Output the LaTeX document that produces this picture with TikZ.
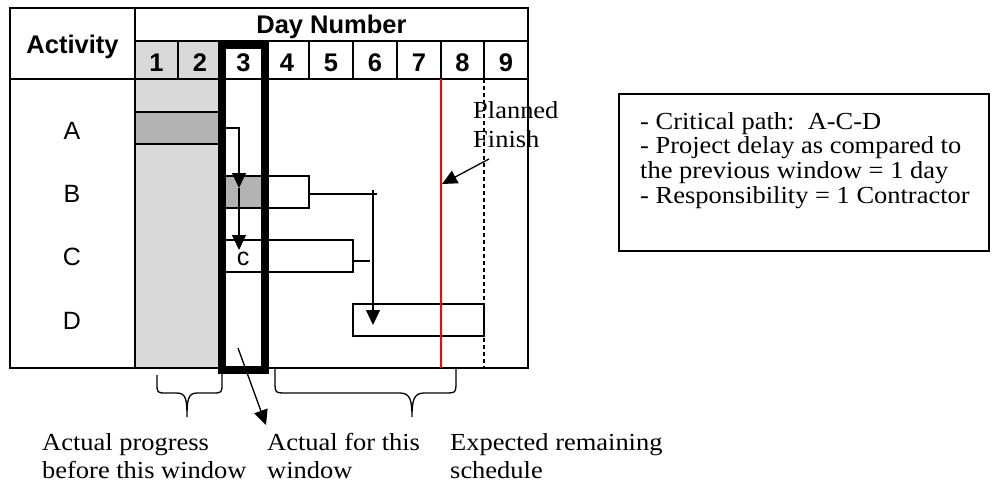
\documentclass[tikz,border=0pt]{standalone}
\usepackage{fontspec}
\setmainfont{Liberation Serif}[FakeStretch=1.08]
\setsansfont{Liberation Sans}
\usetikzlibrary{arrows.meta}
\definecolor{donegray}{HTML}{D9D9D9}
\definecolor{bargray}{HTML}{B3B3B3}
\definecolor{finishred}{HTML}{FF0000}

\begin{document}
\begin{tikzpicture}[x=1pt,y=-1pt,
  gridline/.style={line width=1.9pt},
  barbox/.style={draw, line width=2pt, inner sep=0pt, outer sep=0pt,
                 minimum height=32pt, anchor=west},
  link/.style={line width=1.3pt},
  tipped/.style={-{Triangle[length=15pt,width=14pt]}},
  headtxt/.style={font=\sffamily\bfseries\fontsize{25.5}{28}\selectfont, inner sep=0pt, anchor=base},
  rowtxt/.style={font=\sffamily\fontsize{25}{28}\selectfont, inner sep=0pt, anchor=base},
  note/.style={font=\fontsize{24.5}{25}\selectfont, inner sep=0pt, anchor=base west}]
\useasboundingbox (0,0) rectangle (992,485);

% days already completed before the window
\fill[donegray] (135,41) rectangle (222,368);

% activity bars
\node[barbox, fill=bargray, minimum width=87pt] (barA) at (135,128) {};
\fill[bargray] (222,176) rectangle (265,208);
\node[barbox, minimum width=87pt] (barB) at (222,192) {};
\node[barbox, minimum width=131pt] (barC) at (222,256) {};
\node[barbox, minimum width=131pt] (barD) at (353,320) {};
\node[rowtxt] (cmark) at (243,265) {c};

% table frame and grid
\draw[gridline] (10,8) rectangle (528,368);
\draw[gridline] (135,8) -- (135,368);
\draw[gridline] (135,41) -- (528,41);
\draw[gridline] (10,79) -- (528,79);
\foreach \cx in {178,309,353,397,441,484}
  \draw[gridline] (\cx,41) -- (\cx,79);

% header texts
\node[headtxt] (activity) at (72.5,53) {Activity};
\node[headtxt] (daynum) at (331.5,33) {Day Number};
\foreach \d/\cx in {1/156.5,2/200,3/243.5,4/287,5/331,6/375,7/419,8/462.5,9/506}
  \node[headtxt] (day\d) at (\cx,71) {\d};

% activity names
\node[rowtxt] (actA) at (72,139) {A};
\node[rowtxt] (actB) at (72,202) {B};
\node[rowtxt] (actC) at (72,265) {C};
\node[rowtxt] (actD) at (72,329) {D};

% planned finish and original end
\draw[finishred, line width=2.8pt] (441,79) -- (441,368);
\draw[line width=1.6pt, dash pattern=on 4pt off 3pt] (484,79) -- (484,368);

% current window (day 3)
\draw[line width=8pt] (222,45) rectangle (265,370);

% logic links between activities
\coordinate (inB) at (239,188);
\coordinate (inC) at (239,250);
\coordinate (jBD) at (373,190);
\coordinate (inD) at (373,325);
\draw[link, tipped] (barA.east) -| (inB);
\draw[link, tipped] (inB) -- (inC);
\draw[link] ([yshift=-2pt]barB.east) -- ++(68,0);
\draw[link, tipped] (jBD) -- (inD);
\draw[link] ([yshift=-5pt]barC.east) -- ++(17,0);

% planned finish callout
\node[note] (planned) at (473,118) {Planned};
\node[note] (finish) at (473,147) {Finish};
\coordinate (pfFrom) at (489,159);
\coordinate (pfTo) at (442,184);
\draw[link, tipped] (pfFrom) -- (pfTo);

% braces and captions below the table
\draw[link] (157,375) -- (157,383) .. controls (157,393) .. (167,393) -- (177,393)
  .. controls (186,393) and (187,400) .. (187,417)
  .. controls (187,400) and (188,393) .. (197,393) -- (212,393)
  .. controls (222,393) .. (222,383) -- (222,374);
\draw[link] (275,368) -- (275,381) .. controls (275,393) .. (287,393) -- (400,393)
  .. controls (410,393) and (412,400) .. (412,417)
  .. controls (412,400) and (414,393) .. (424,393) -- (444,393)
  .. controls (456,393) .. (456,381) -- (456,368);
\coordinate (winFrom) at (238,348);
\coordinate (winTo) at (266,425);
\draw[link, tipped] (winFrom) -- (winTo);

\node[note] (cap1a) at (42,450) {Actual progress};
\node[note] (cap1b) at (42,478) {before this window};
\node[note] (cap2a) at (267,450) {Actual for this};
\node[note] (cap2b) at (267,478) {window};
\node[note] (cap3a) at (450,450) {Expected remaining};
\node[note] (cap3b) at (450,478) {schedule};

% summary box
\node[draw, line width=1.5pt, minimum width=370pt, minimum height=157pt,
      inner sep=0pt, anchor=north west] (summary) at (618,93) {};
\node[note] (s1) at (640,129) {- Critical path:\ \ A-C-D};
\node[note] (s2) at (640,153) {- Project delay as compared to};
\node[note] (s3) at (640,178) {the previous window = 1 day};
\node[note] (s4) at (640,203) {- Responsibility = 1 Contractor};
\end{tikzpicture}
\end{document}
